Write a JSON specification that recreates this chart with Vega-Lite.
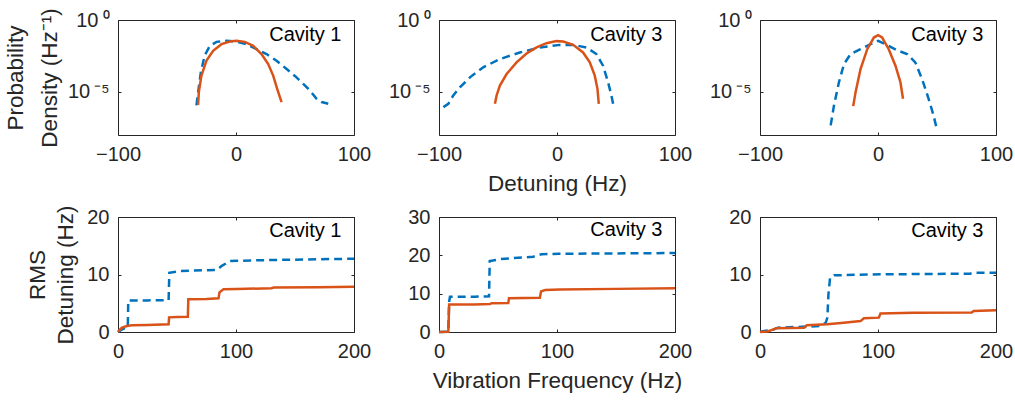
{
  "$schema": "https://vega.github.io/schema/vega-lite/v6.json",
  "background": "white",
  "padding": {"left": 3, "top": 7, "right": 2, "bottom": 2},
  "config": {
    "font": "Liberation Sans",
    "view": {"stroke": "#262626", "strokeWidth": 1},
    "axis": {"grid": false, "domain": false, "tickColor": "#262626", "tickSize": -3, "tickWidth": 1,
      "labelColor": "#262626", "labelFontSize": 20, "labelPadding": 12, "labelFlush": false, "labelOverlap": false,
      "titleColor": "#262626", "titleFontSize": 22.5, "titleFontWeight": "normal"}
  },
  "columns": 3,
  "spacing": {"row": 82, "column": 85},
  "bounds": "flush",
  "concat": [
    {
      "width": 236, "height": 115,
      "data": {"values": [
        {"s":"blue","x":-33.5,"y":1.15e-6},{"s":"blue","x":-32.1,"y":9.55e-6},{"s":"blue","x":-29.8,"y":2.29e-4},{"s":"blue","x":-26.6,"y":3.24e-3},{"s":"blue","x":-22.2,"y":0.0158},{"s":"blue","x":-16.5,"y":0.0302},{"s":"blue","x":-8.1,"y":0.0355},{"s":"blue","x":0.4,"y":0.0316},{"s":"blue","x":8.9,"y":0.0209},{"s":"blue","x":17.4,"y":9.33e-3},{"s":"blue","x":25.9,"y":4.27e-3},{"s":"blue","x":34.4,"y":1.48e-3},{"s":"blue","x":42.9,"y":3.89e-4},{"s":"blue","x":51.3,"y":1.02e-4},{"s":"blue","x":57,"y":3.55e-5},{"s":"blue","x":62.7,"y":1.23e-5},{"s":"blue","x":68.3,"y":3.31e-6},{"s":"blue","x":72.6,"y":1.95e-6},{"s":"blue","x":78.2,"y":1.48e-6},
        {"s":"orange","x":-32.1,"y":1.26e-6},{"s":"orange","x":-31.5,"y":9.55e-6},{"s":"orange","x":-29.3,"y":1.35e-4},{"s":"orange","x":-25,"y":1.48e-3},{"s":"orange","x":-19.4,"y":7.24e-3},{"s":"orange","x":-12.3,"y":0.0209},{"s":"orange","x":-5.2,"y":0.0316},{"s":"orange","x":0.4,"y":0.0355},{"s":"orange","x":7.5,"y":0.0302},{"s":"orange","x":14.6,"y":0.0158},{"s":"orange","x":21.6,"y":4.27e-3},{"s":"orange","x":27.3,"y":8.71e-4},{"s":"orange","x":31.5,"y":1.35e-4},{"s":"orange","x":34.9,"y":1.62e-5},{"s":"orange","x":37.2,"y":4.27e-6},{"s":"orange","x":38.6,"y":1.95e-6}
      ]},
      "layer": [
        {"transform": [{"filter": "datum.s == 'blue'"}],
         "mark": {"type": "line", "color": "#0072BD", "strokeWidth": 2.5, "strokeDash": [8, 5]},
         "encoding": {
           "x": {"field": "x", "type": "quantitative", "scale": {"domain": [-100, 100], "nice": false}, "axis": {"orient": "bottom", "values": [-100, 0, 100], "title": null}},
           "y": {"field": "y", "type": "quantitative", "scale": {"type": "log", "domain": [1e-8, 1], "nice": false}, "axis": {"orient": "left", "values": [1e-5, 1], "labelExpr": "datum.value > 0.5 ? '10\u2009⁰' : '10\u2009⁻⁵'", "title": ["Probability", "Density (Hz⁻¹)"], "titleLineHeight": 34, "titlePadding": 6}}
         }},
        {"transform": [{"filter": "datum.s == 'orange'"}],
         "mark": {"type": "line", "color": "#D95319", "strokeWidth": 2.5},
         "encoding": {
           "x": {"field": "x", "type": "quantitative", "scale": {"domain": [-100, 100], "nice": false}, "axis": {"orient": "top", "values": [-100, 0, 100], "labels": false, "title": null}},
           "y": {"field": "y", "type": "quantitative", "scale": {"type": "log", "domain": [1e-8, 1], "nice": false}, "axis": {"orient": "right", "values": [1e-5, 1], "labels": false, "title": null}}
         }},
        {"data": {"values": [{"label": "Cavity 1"}]},
         "mark": {"type": "text", "align": "right", "baseline": "middle", "fontSize": 20, "color": "#000000"},
         "encoding": {"text": {"field": "label"}, "x": {"datum": 89.4, "type": "quantitative", "axis": null}, "y": {"datum": 0.091, "type": "quantitative", "axis": null}}}
      ]
    },
    {
      "width": 236, "height": 115,
      "data": {"values": [
        {"s":"blue","x":-96.3,"y":8.71e-7},{"s":"blue","x":-92.1,"y":1.48e-6},{"s":"blue","x":-87.9,"y":5.62e-6},{"s":"blue","x":-82.3,"y":2.09e-5},{"s":"blue","x":-73.8,"y":1.02e-4},{"s":"blue","x":-62.5,"y":5.13e-4},{"s":"blue","x":-48.4,"y":1.91e-3},{"s":"blue","x":-31.5,"y":5.5e-3},{"s":"blue","x":-14.5,"y":0.0123},{"s":"blue","x":2.4,"y":0.0186},{"s":"blue","x":13.7,"y":0.0186},{"s":"blue","x":25,"y":0.0123},{"s":"blue","x":33.4,"y":4.27e-3},{"s":"blue","x":39,"y":6.61e-4},{"s":"blue","x":43.3,"y":4.68e-5},{"s":"blue","x":46.1,"y":5.62e-6},{"s":"blue","x":48.1,"y":8.71e-7},
        {"s":"orange","x":-52.6,"y":1.48e-6},{"s":"orange","x":-51.2,"y":5.62e-6},{"s":"orange","x":-48.4,"y":2.75e-5},{"s":"orange","x":-42.7,"y":1.74e-4},{"s":"orange","x":-34.3,"y":1.12e-3},{"s":"orange","x":-25.8,"y":4.68e-3},{"s":"orange","x":-17.3,"y":0.0123},{"s":"orange","x":-8.9,"y":0.0245},{"s":"orange","x":-0.4,"y":0.0339},{"s":"orange","x":5.2,"y":0.0316},{"s":"orange","x":13.7,"y":0.0186},{"s":"orange","x":22.1,"y":5.5e-3},{"s":"orange","x":27.8,"y":1.12e-3},{"s":"orange","x":32,"y":1.35e-4},{"s":"orange","x":34.3,"y":1.62e-5},{"s":"orange","x":35.4,"y":1.48e-6}
      ]},
      "layer": [
        {"transform": [{"filter": "datum.s == 'blue'"}],
         "mark": {"type": "line", "color": "#0072BD", "strokeWidth": 2.5, "strokeDash": [8, 5]},
         "encoding": {
           "x": {"field": "x", "type": "quantitative", "scale": {"domain": [-100, 100], "nice": false}, "axis": {"orient": "bottom", "values": [-100, 0, 100], "title": "Detuning (Hz)", "titlePadding": 8}},
           "y": {"field": "y", "type": "quantitative", "scale": {"type": "log", "domain": [1e-8, 1], "nice": false}, "axis": {"orient": "left", "values": [1e-5, 1], "labelExpr": "datum.value > 0.5 ? '10\u2009⁰' : '10\u2009⁻⁵'", "title": null}}
         }},
        {"transform": [{"filter": "datum.s == 'orange'"}],
         "mark": {"type": "line", "color": "#D95319", "strokeWidth": 2.5},
         "encoding": {
           "x": {"field": "x", "type": "quantitative", "scale": {"domain": [-100, 100], "nice": false}, "axis": {"orient": "top", "values": [-100, 0, 100], "labels": false, "title": null}},
           "y": {"field": "y", "type": "quantitative", "scale": {"type": "log", "domain": [1e-8, 1], "nice": false}, "axis": {"orient": "right", "values": [1e-5, 1], "labels": false, "title": null}}
         }},
        {"data": {"values": [{"label": "Cavity 3"}]},
         "mark": {"type": "text", "align": "right", "baseline": "middle", "fontSize": 20, "color": "#000000"},
         "encoding": {"text": {"field": "label"}, "x": {"datum": 89.4, "type": "quantitative", "axis": null}, "y": {"datum": 0.091, "type": "quantitative", "axis": null}}}
      ]
    },
    {
      "width": 236, "height": 115,
      "data": {"values": [
        {"s":"blue","x":-40.1,"y":4.68e-8},{"s":"blue","x":-37.3,"y":1.15e-6},{"s":"blue","x":-33.1,"y":4.68e-5},{"s":"blue","x":-28.8,"y":8.71e-4},{"s":"blue","x":-23.2,"y":4.27e-3},{"s":"blue","x":-14.8,"y":9.33e-3},{"s":"blue","x":-6.3,"y":0.0209},{"s":"blue","x":0.1,"y":0.0355},{"s":"blue","x":7.7,"y":0.0178},{"s":"blue","x":16.2,"y":7.94e-3},{"s":"blue","x":24.6,"y":4.27e-3},{"s":"blue","x":31.6,"y":1.12e-3},{"s":"blue","x":37.3,"y":7.94e-5},{"s":"blue","x":42.9,"y":3.31e-6},{"s":"blue","x":47.1,"y":2.29e-7},{"s":"blue","x":49.4,"y":3.63e-8},
        {"s":"orange","x":-21,"y":1.02e-6},{"s":"orange","x":-19,"y":9.55e-6},{"s":"orange","x":-14.8,"y":3.89e-4},{"s":"orange","x":-9.1,"y":9.33e-3},{"s":"orange","x":-3.5,"y":0.0603},{"s":"orange","x":0.1,"y":0.0871},{"s":"orange","x":3.5,"y":0.0603},{"s":"orange","x":9.1,"y":9.33e-3},{"s":"orange","x":14.8,"y":6.61e-4},{"s":"orange","x":19,"y":4.68e-5},{"s":"orange","x":21.2,"y":3.31e-6}
      ]},
      "layer": [
        {"transform": [{"filter": "datum.s == 'blue'"}],
         "mark": {"type": "line", "color": "#0072BD", "strokeWidth": 2.5, "strokeDash": [8, 5]},
         "encoding": {
           "x": {"field": "x", "type": "quantitative", "scale": {"domain": [-100, 100], "nice": false}, "axis": {"orient": "bottom", "values": [-100, 0, 100], "title": null}},
           "y": {"field": "y", "type": "quantitative", "scale": {"type": "log", "domain": [1e-8, 1], "nice": false}, "axis": {"orient": "left", "values": [1e-5, 1], "labelExpr": "datum.value > 0.5 ? '10\u2009⁰' : '10\u2009⁻⁵'", "title": null}}
         }},
        {"transform": [{"filter": "datum.s == 'orange'"}],
         "mark": {"type": "line", "color": "#D95319", "strokeWidth": 2.5},
         "encoding": {
           "x": {"field": "x", "type": "quantitative", "scale": {"domain": [-100, 100], "nice": false}, "axis": {"orient": "top", "values": [-100, 0, 100], "labels": false, "title": null}},
           "y": {"field": "y", "type": "quantitative", "scale": {"type": "log", "domain": [1e-8, 1], "nice": false}, "axis": {"orient": "right", "values": [1e-5, 1], "labels": false, "title": null}}
         }},
        {"data": {"values": [{"label": "Cavity 3"}]},
         "mark": {"type": "text", "align": "right", "baseline": "middle", "fontSize": 20, "color": "#000000"},
         "encoding": {"text": {"field": "label"}, "x": {"datum": 89.4, "type": "quantitative", "axis": null}, "y": {"datum": 0.091, "type": "quantitative", "axis": null}}}
      ]
    },
    {
      "width": 236, "height": 115,
      "data": {"values": [
        {"s":"blue","x":0,"y":0},{"s":"blue","x":3.4,"y":0.46},{"s":"blue","x":7,"y":0.75},{"s":"blue","x":8.3,"y":0.9},{"s":"blue","x":8.7,"y":5.5},{"s":"blue","x":25,"y":5.5},{"s":"blue","x":42.9,"y":5.55},{"s":"blue","x":43.5,"y":10.3},{"s":"blue","x":52.7,"y":10.6},{"s":"blue","x":83.8,"y":10.8},{"s":"blue","x":88,"y":11.5},{"s":"blue","x":95,"y":12.35},{"s":"blue","x":126,"y":12.5},{"s":"blue","x":170,"y":12.65},{"s":"blue","x":200,"y":12.75},
        {"s":"orange","x":0,"y":0},{"s":"orange","x":1.5,"y":0.4},{"s":"orange","x":3.4,"y":0.75},{"s":"orange","x":7.6,"y":1.04},{"s":"orange","x":11.8,"y":1.16},{"s":"orange","x":25,"y":1.22},{"s":"orange","x":42.9,"y":1.33},{"s":"orange","x":43.3,"y":2.55},{"s":"orange","x":50,"y":2.6},{"s":"orange","x":59.2,"y":2.65},{"s":"orange","x":59.6,"y":5.68},{"s":"orange","x":75,"y":5.75},{"s":"orange","x":85.2,"y":5.85},{"s":"orange","x":86,"y":6.9},{"s":"orange","x":87.5,"y":7.13},{"s":"orange","x":89.4,"y":7.42},{"s":"orange","x":100.7,"y":7.48},{"s":"orange","x":130,"y":7.6},{"s":"orange","x":132,"y":7.72},{"s":"orange","x":170,"y":7.8},{"s":"orange","x":200,"y":7.88}
      ]},
      "layer": [
        {"transform": [{"filter": "datum.s == 'blue'"}],
         "mark": {"type": "line", "color": "#0072BD", "strokeWidth": 2.5, "strokeDash": [8, 5]},
         "encoding": {
           "x": {"field": "x", "type": "quantitative", "scale": {"domain": [0, 200], "nice": false}, "axis": {"orient": "bottom", "values": [0, 100, 200], "title": null}},
           "y": {"field": "y", "type": "quantitative", "scale": {"domain": [0, 20], "nice": false}, "axis": {"orient": "left", "values": [0, 10, 20], "title": ["RMS", "Detuning (Hz)"], "titleLineHeight": 28, "titlePadding": 9}}
         }},
        {"transform": [{"filter": "datum.s == 'orange'"}],
         "mark": {"type": "line", "color": "#D95319", "strokeWidth": 2.5},
         "encoding": {
           "x": {"field": "x", "type": "quantitative", "scale": {"domain": [0, 200], "nice": false}, "axis": {"orient": "top", "values": [0, 100, 200], "labels": false, "title": null}},
           "y": {"field": "y", "type": "quantitative", "scale": {"domain": [0, 20], "nice": false}, "axis": {"orient": "right", "values": [0, 10, 20], "labels": false, "title": null}}
         }},
        {"data": {"values": [{"label": "Cavity 1"}]},
         "mark": {"type": "text", "align": "right", "baseline": "middle", "fontSize": 20, "color": "#000000"},
         "encoding": {"text": {"field": "label"}, "x": {"datum": 189.4, "type": "quantitative", "axis": null}, "y": {"datum": 17.65, "type": "quantitative", "axis": null}}}
      ]
    },
    {
      "width": 236, "height": 115,
      "data": {"values": [
        {"s":"blue","x":0,"y":0},{"s":"blue","x":7.9,"y":0.1},{"s":"blue","x":8.6,"y":7.9},{"s":"blue","x":9.3,"y":9.2},{"s":"blue","x":30,"y":9.2},{"s":"blue","x":42.4,"y":9.3},{"s":"blue","x":43,"y":18.5},{"s":"blue","x":51.6,"y":19.0},{"s":"blue","x":79.8,"y":19.65},{"s":"blue","x":86.9,"y":20.3},{"s":"blue","x":102,"y":20.4},{"s":"blue","x":150,"y":20.5},{"s":"blue","x":200,"y":20.6},
        {"s":"orange","x":0,"y":0},{"s":"orange","x":7.9,"y":0.05},{"s":"orange","x":8.6,"y":7.2},{"s":"orange","x":30,"y":7.2},{"s":"orange","x":43.2,"y":7.3},{"s":"orange","x":44.5,"y":7.5},{"s":"orange","x":58.7,"y":7.55},{"s":"orange","x":59.3,"y":8.8},{"s":"orange","x":85.5,"y":8.95},{"s":"orange","x":86.5,"y":10.6},{"s":"orange","x":90,"y":10.95},{"s":"orange","x":102.4,"y":11.1},{"s":"orange","x":150,"y":11.25},{"s":"orange","x":200,"y":11.4}
      ]},
      "layer": [
        {"transform": [{"filter": "datum.s == 'blue'"}],
         "mark": {"type": "line", "color": "#0072BD", "strokeWidth": 2.5, "strokeDash": [8, 5]},
         "encoding": {
           "x": {"field": "x", "type": "quantitative", "scale": {"domain": [0, 200], "nice": false}, "axis": {"orient": "bottom", "values": [0, 100, 200], "title": "Vibration Frequency (Hz)", "titlePadding": 8}},
           "y": {"field": "y", "type": "quantitative", "scale": {"domain": [0, 30], "nice": false}, "axis": {"orient": "left", "values": [0, 10, 20, 30], "title": null}}
         }},
        {"transform": [{"filter": "datum.s == 'orange'"}],
         "mark": {"type": "line", "color": "#D95319", "strokeWidth": 2.5},
         "encoding": {
           "x": {"field": "x", "type": "quantitative", "scale": {"domain": [0, 200], "nice": false}, "axis": {"orient": "top", "values": [0, 100, 200], "labels": false, "title": null}},
           "y": {"field": "y", "type": "quantitative", "scale": {"domain": [0, 30], "nice": false}, "axis": {"orient": "right", "values": [0, 10, 20, 30], "labels": false, "title": null}}
         }},
        {"data": {"values": [{"label": "Cavity 3"}]},
         "mark": {"type": "text", "align": "right", "baseline": "middle", "fontSize": 20, "color": "#000000"},
         "encoding": {"text": {"field": "label"}, "x": {"datum": 189.4, "type": "quantitative", "axis": null}, "y": {"datum": 26.5, "type": "quantitative", "axis": null}}}
      ]
    },
    {
      "width": 236, "height": 115,
      "data": {"values": [
        {"s":"blue","x":0,"y":0.05},{"s":"blue","x":12,"y":0.46},{"s":"blue","x":15,"y":0.75},{"s":"blue","x":51.5,"y":1.04},{"s":"blue","x":55.7,"y":1.6},{"s":"blue","x":57.1,"y":2.5},{"s":"blue","x":58,"y":6.55},{"s":"blue","x":59.4,"y":9.45},{"s":"blue","x":62.8,"y":9.86},{"s":"blue","x":102,"y":10.03},{"s":"blue","x":178,"y":10.14},{"s":"blue","x":181,"y":10.3},{"s":"blue","x":200,"y":10.3},
        {"s":"orange","x":0,"y":0},{"s":"orange","x":6.5,"y":0.1},{"s":"orange","x":12,"y":0.5},{"s":"orange","x":13.5,"y":0.64},{"s":"orange","x":37.4,"y":0.75},{"s":"orange","x":39.7,"y":1.16},{"s":"orange","x":57,"y":1.33},{"s":"orange","x":71,"y":1.62},{"s":"orange","x":85.2,"y":1.9},{"s":"orange","x":88,"y":2.4},{"s":"orange","x":100.7,"y":2.5},{"s":"orange","x":102.1,"y":3.2},{"s":"orange","x":130,"y":3.36},{"s":"orange","x":179.5,"y":3.4},{"s":"orange","x":181,"y":3.65},{"s":"orange","x":200,"y":3.77}
      ]},
      "layer": [
        {"transform": [{"filter": "datum.s == 'blue'"}],
         "mark": {"type": "line", "color": "#0072BD", "strokeWidth": 2.5, "strokeDash": [8, 5]},
         "encoding": {
           "x": {"field": "x", "type": "quantitative", "scale": {"domain": [0, 200], "nice": false}, "axis": {"orient": "bottom", "values": [0, 100, 200], "title": null}},
           "y": {"field": "y", "type": "quantitative", "scale": {"domain": [0, 20], "nice": false}, "axis": {"orient": "left", "values": [0, 10, 20], "title": null}}
         }},
        {"transform": [{"filter": "datum.s == 'orange'"}],
         "mark": {"type": "line", "color": "#D95319", "strokeWidth": 2.5},
         "encoding": {
           "x": {"field": "x", "type": "quantitative", "scale": {"domain": [0, 200], "nice": false}, "axis": {"orient": "top", "values": [0, 100, 200], "labels": false, "title": null}},
           "y": {"field": "y", "type": "quantitative", "scale": {"domain": [0, 20], "nice": false}, "axis": {"orient": "right", "values": [0, 10, 20], "labels": false, "title": null}}
         }},
        {"data": {"values": [{"label": "Cavity 3"}]},
         "mark": {"type": "text", "align": "right", "baseline": "middle", "fontSize": 20, "color": "#000000"},
         "encoding": {"text": {"field": "label"}, "x": {"datum": 189.4, "type": "quantitative", "axis": null}, "y": {"datum": 17.65, "type": "quantitative", "axis": null}}}
      ]
    }
  ]
}
